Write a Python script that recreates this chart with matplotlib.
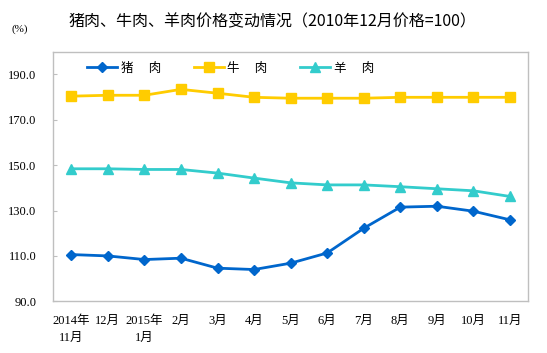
import numpy as np
import matplotlib
matplotlib.use('Agg')
import matplotlib.pyplot as plt

# data
months = ['2014年\n11月', '12月', '2015年\n1月', '2月', '3月', '4月', '5月',
          '6月', '7月', '8月', '9月', '10月', '11月']
pork = [110.6, 110.0, 108.4, 109.0, 104.6, 104.0, 106.8, 111.3, 122.2, 131.5, 131.9, 129.7, 125.9]
beef = [180.4, 180.8, 180.8, 183.4, 181.7, 179.9, 179.5, 179.5, 179.5, 179.9, 179.9, 179.9, 179.9]
mutton = [148.4, 148.4, 148.1, 148.1, 146.5, 144.3, 142.2, 141.3, 141.3, 140.5, 139.6, 138.7, 136.2]
names = ['猪　 肉', '牛　 肉', '羊　 肉']
yticks = [90, 110, 130, 150, 170, 190]

serif_cjk = ['Liberation Serif', 'Noto Sans CJK SC']
sans_cjk = ['Noto Sans CJK SC', 'DejaVu Sans']
plt.rcParams['font.family'] = sans_cjk

fig = plt.figure(figsize=(5.47, 3.53), dpi=100)
ax = fig.add_axes([53/547, 1-301.3/353, (528.3-53)/547, (301.3-51.7)/353])

x = np.arange(len(months))
ax.plot(x, pork, color='#0066CC', lw=2.0, marker='D', ms=5.5, label=names[0])
ax.plot(x, beef, color='#FFCC00', lw=2.0, marker='s', ms=6.5, label=names[1])
ax.plot(x, mutton, color='#33CCCC', lw=2.0, marker='^', ms=6.5, label=names[2])

ax.set_xlim(-0.5, len(months) - 0.5)
ax.set_ylim(90, 200)
ax.set_yticks(yticks)
ax.set_yticklabels(['%.1f' % v for v in yticks], family=serif_cjk, fontsize=9)
ax.set_xticks(x)
ax.set_xticklabels(months, family=serif_cjk, fontsize=9, linespacing=1.5, va='top')
ax.tick_params(axis='x', length=0, pad=10)
ax.tick_params(axis='y', direction='in', length=3, color='#BFBFBF', pad=12)

for s in ax.spines.values():
    s.set_color('#BFBFBF')
    s.set_linewidth(1.0)

ax.legend(loc='center left', bbox_to_anchor=(87/547, 1-68/353), bbox_transform=fig.transFigure,
          ncol=3, frameon=False, fontsize=9, handlelength=2.4, handletextpad=0.3,
          columnspacing=2.6, borderaxespad=0, borderpad=0)

fig.text(272/547, 1-22/353, '猪肉、牛肉、羊肉价格变动情况（2010年12月价格=100）',
         ha='center', va='center', fontsize=11.5, family=sans_cjk)
fig.text(12/547, 1-29/353, '(%)', ha='left', va='center', fontsize=8, family=serif_cjk)

fig.savefig('out.png', dpi=100)
